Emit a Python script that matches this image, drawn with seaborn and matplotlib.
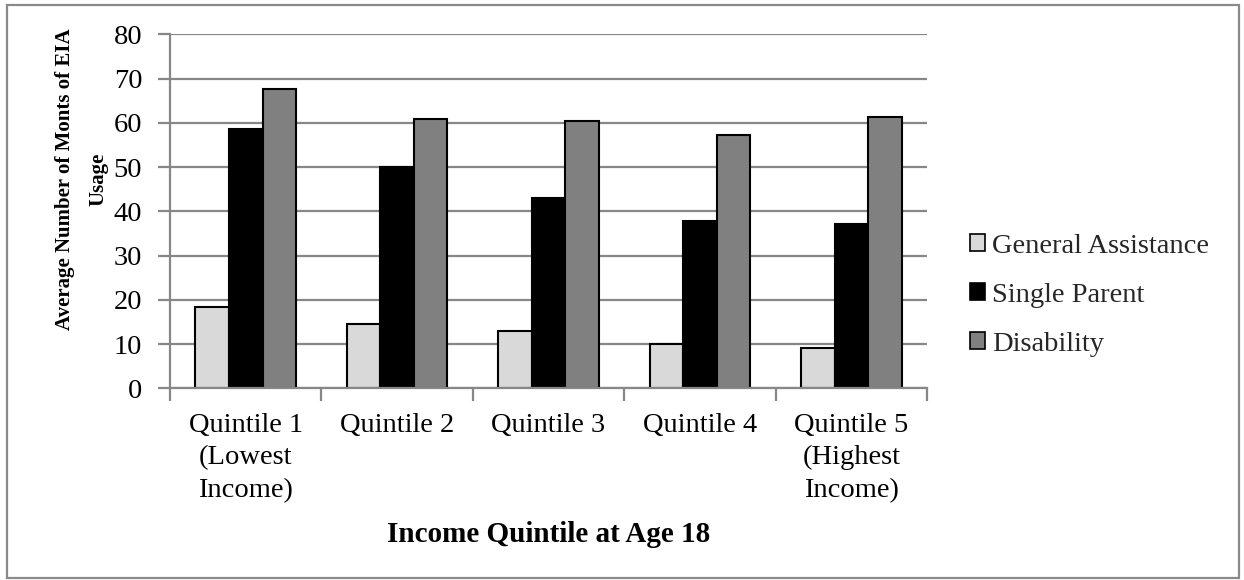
import matplotlib
matplotlib.use("Agg")
import matplotlib.pyplot as plt
import matplotlib.patches as mpatches
import seaborn as sns
import pandas as pd

quintiles = ["Quintile 1\n(Lowest\nIncome)", "Quintile 2", "Quintile 3",
             "Quintile 4", "Quintile 5\n(Highest\nIncome)"]
programs = ["General Assistance", "Single Parent", "Disability"]
general_assistance = [18.4, 14.5, 13.0, 10.1, 9.0]
single_parent = [58.6, 50.1, 42.9, 37.7, 37.2]
disability = [67.7, 60.9, 60.4, 57.3, 61.4]
colors = ["#d9d9d9", "#000000", "#808080"]

df = pd.DataFrame({
    "quintile": quintiles * 3,
    "program": [programs[0]] * 5 + [programs[1]] * 5 + [programs[2]] * 5,
    "months": general_assistance + single_parent + disability,
})

sns.set_theme(style="white")
plt.rcParams["font.family"] = ["Liberation Serif", "DejaVu Serif"]

FS = 20.5

fig = plt.figure(figsize=(12.44, 5.8), dpi=100)
ax = fig.add_axes([0.1367, 0.3305, 0.6085, 0.6104])

sns.barplot(data=df, x="quintile", y="months", hue="program",
            hue_order=programs, order=quintiles, palette=colors,
            width=0.664, gap=0, edgecolor="black", linewidth=1.5,
            saturation=1, ax=ax, legend=False, zorder=3)

grid_c = "#878787"
ax.set_ylim(0, 80)
ax.set_yticks(range(0, 81, 10))
ax.set_xlim(-0.5, 4.5)
ax.yaxis.grid(True, color=grid_c, linewidth=1.6, zorder=0)
ax.set_axisbelow(True)
for s in ["top", "right"]:
    ax.spines[s].set_visible(False)
for s in ["left", "bottom"]:
    ax.spines[s].set_color(grid_c)
    ax.spines[s].set_linewidth(1.6)
    ax.spines[s].set_zorder(4)

ax.tick_params(axis="y", which="major", direction="out", length=9, width=1.6,
               color=grid_c, labelsize=FS, labelcolor="black", pad=11, left=True)
ax.tick_params(axis="x", which="major", length=0, labelsize=FS,
               labelcolor="black", pad=17.5)
ax.set_xticks([i - 0.5 for i in range(6)], minor=True)
ax.tick_params(axis="x", which="minor", direction="out", length=9, width=1.6,
               color=grid_c, bottom=True)
for lbl in ax.get_xticklabels():
    lbl.set_linespacing(1.4)
    lbl.set_verticalalignment("top")

ax.set_xlabel("Income Quintile at Age 18", fontsize=21, fontweight="bold",
              color="black")
ax.xaxis.set_label_coords(0.5, -0.375)
ax.set_ylabel("Average Number of Monts of EIA\nUsage", fontsize=15,
              fontweight="bold", color="black", linespacing=1.85)
ax.yaxis.set_label_coords(-0.082, 0.59)

handles = [mpatches.Patch(facecolor=c, edgecolor="black", linewidth=1.2,
                          label=p) for c, p in zip(colors, programs)]
fig.legend(handles=handles, loc="center left", bbox_to_anchor=(0.7685, 0.491),
           frameon=False, fontsize=FS, handlelength=0.53, handleheight=0.53,
           handletextpad=0.25, labelspacing=0.85, borderpad=0)

fig.patches.append(mpatches.Rectangle((0.0056, 0.004), 0.9904, 0.987,
                                      transform=fig.transFigure, fill=False,
                                      edgecolor="#8a8a8a", linewidth=1.6))

fig.savefig("out.png", dpi=100)
